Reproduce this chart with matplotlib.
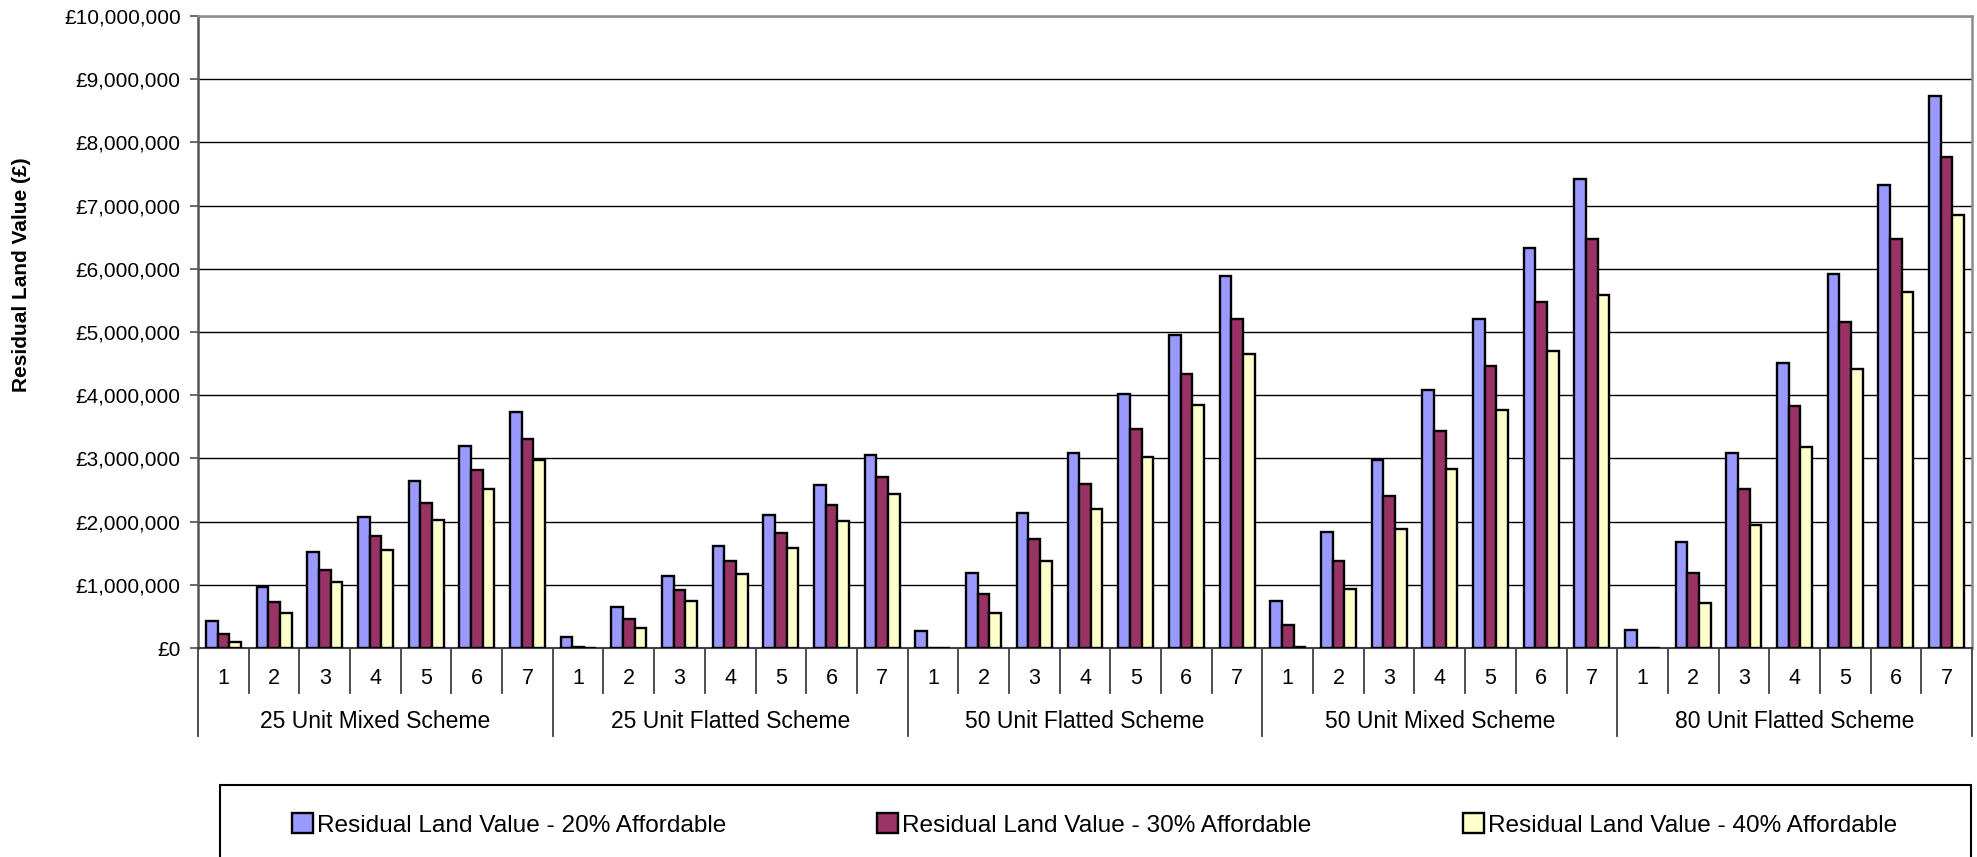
import matplotlib
matplotlib.use("Agg")
import matplotlib.pyplot as plt
from matplotlib.patches import Rectangle
from matplotlib.ticker import FuncFormatter, MultipleLocator
import numpy as np

plt.rcParams['font.family'] = ['Liberation Sans', 'DejaVu Sans']

# Scheme groups and the seven scenarios within each
schemes = ["25 Unit Mixed Scheme", "25 Unit Flatted Scheme", "50 Unit Flatted Scheme",
           "50 Unit Mixed Scheme", "80 Unit Flatted Scheme"]
scenarios = ["1", "2", "3", "4", "5", "6", "7"]

series_names = ["Residual Land Value - 20% Affordable",
                "Residual Land Value - 30% Affordable",
                "Residual Land Value - 40% Affordable"]

# Residual land values in £ millions, scheme by scheme (scenarios 1-7)
rlv_20 = [0.42, 0.96, 1.52, 2.07, 2.65, 3.20, 3.74,
          0.18, 0.65, 1.14, 1.62, 2.10, 2.58, 3.05,
          0.27, 1.19, 2.14, 3.09, 4.02, 4.96, 5.88,
          0.74, 1.84, 2.97, 4.09, 5.21, 6.33, 7.42,
          0.28, 1.67, 3.08, 4.51, 5.91, 7.33, 8.73]
rlv_30 = [0.22, 0.73, 1.24, 1.77, 2.29, 2.81, 3.30,
          0.02, 0.46, 0.91, 1.37, 1.82, 2.26, 2.71,
          0.00, 0.85, 1.73, 2.60, 3.47, 4.34, 5.20,
          0.37, 1.37, 2.40, 3.44, 4.46, 5.48, 6.47,
          0.00, 1.18, 2.51, 3.83, 5.16, 6.47, 7.77]
rlv_40 = [0.09, 0.56, 1.05, 1.55, 2.03, 2.52, 2.98,
          0.00, 0.32, 0.74, 1.17, 1.59, 2.01, 2.43,
          0.00, 0.56, 1.38, 2.20, 3.02, 3.84, 4.65,
          0.02, 0.94, 1.88, 2.83, 3.77, 4.70, 5.59,
          0.00, 0.71, 1.95, 3.18, 4.42, 5.64, 6.85]

colors = ["#9999FF", "#993366", "#FFFFCC"]

W, H = 1977, 857
fig = plt.figure(figsize=(W / 100, H / 100), dpi=100)
fig.patch.set_facecolor("white")

# Plot area in pixel terms
left_px, right_px, top_px, zero_px = 198, 1972, 16, 648
ax = fig.add_axes([left_px / W, 1 - zero_px / H,
                   (right_px - left_px) / W, (zero_px - top_px) / H])

n_cat = len(schemes) * len(scenarios)
x = np.arange(n_cat)
bw = 0.23
for k, (vals, c, name) in enumerate(zip([rlv_20, rlv_30, rlv_40], colors, series_names)):
    ax.bar(x + (k - 1) * bw, np.array(vals) * 1e6, width=bw, color=c,
           edgecolor="black", linewidth=1.7, label=name, zorder=3)

ax.set_xlim(-0.5, n_cat - 0.5)
ax.set_ylim(0, 10_000_000)
ax.yaxis.set_major_locator(MultipleLocator(1_000_000))
ax.yaxis.set_major_formatter(FuncFormatter(lambda v, p: "£{:,.0f}".format(v)))
ax.tick_params(axis="y", labelsize=15, length=6, width=1.2, color="#505050", pad=6.5)
ax.set_xticks([])
ax.grid(axis="y", color="black", linewidth=1.0, zorder=0)

for side in ("top", "right"):
    ax.spines[side].set_color("#8c8c8c")
    ax.spines[side].set_linewidth(1.8)
ax.spines["left"].set_color("#555555")
ax.spines["left"].set_linewidth(1.8)
ax.spines["bottom"].set_color("#404040")
ax.spines["bottom"].set_linewidth(1.5)

# Two-level category axis below the plot
axh = zero_px - top_px
xt = ax.get_xaxis_transform()
y_num = -(679 - zero_px) / axh
y_tick = -(693 - zero_px) / axh
y_grp = -(722 - zero_px) / axh
y_sep = -(736 - zero_px) / axh

for i in range(n_cat):
    ax.text(i, y_num, scenarios[i % len(scenarios)], transform=xt,
            ha="center", va="center", fontsize=15.5, color="black")
for b in np.arange(-0.5, n_cat, 1.0):
    is_group = (b + 0.5) % len(scenarios) == 0
    ax.plot([b, b], [0, y_sep if is_group else y_tick], transform=xt,
            color="#404040", linewidth=1.3, clip_on=False, zorder=4)
for g, name in enumerate(schemes):
    ax.text(g * len(scenarios) + (len(scenarios) - 1) / 2, y_grp, name, transform=xt,
            ha="center", va="center", fontsize=16.5, color="black")

fig.text(22 / W, 1 - 275 / H, "Residual Land Value (£)", rotation=90,
         ha="center", va="center", fontsize=15, fontweight="bold")

# Legend frame and entries
fig.patches.append(Rectangle((220 / W, -0.2), (1971 - 220) / W, 0.2 + 1 - 785 / H,
                             transform=fig.transFigure, facecolor="white",
                             edgecolor="black", linewidth=1.5, zorder=0))
handles, labels = ax.get_legend_handles_labels()
leg = fig.legend(handles, labels, loc="center left", ncol=3,
                 bbox_to_anchor=(292 / W, 1 - 825 / H), frameon=False,
                 fontsize=17.6, handlelength=0.85, handleheight=0.85,
                 handletextpad=0.16, columnspacing=6.2, borderpad=0,
                 borderaxespad=0)

fig.savefig("out.png", dpi=100, facecolor="white")
